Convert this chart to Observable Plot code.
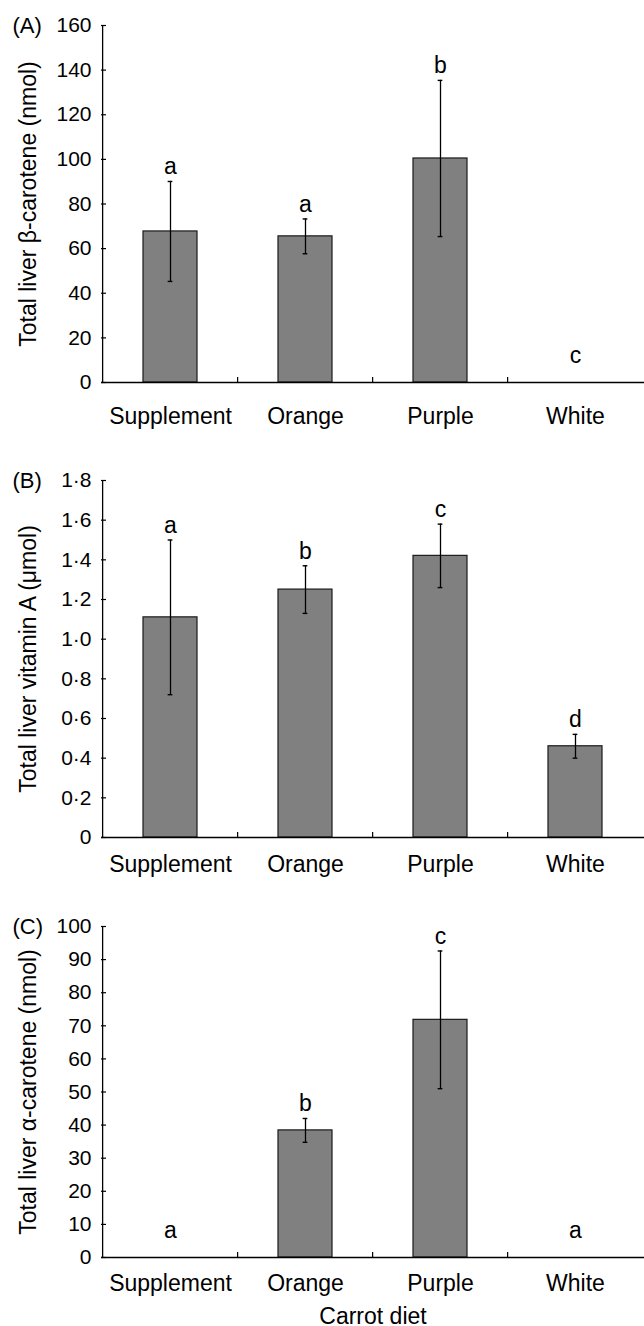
<!DOCTYPE html>
<html>
<head>
<meta charset="utf-8">
<script src="https://cdn.jsdelivr.net/npm/d3@7"></script>
<script src="https://cdn.jsdelivr.net/npm/@observablehq/plot@0.6"></script>
<style>
  body { margin: 0; background: #fff; }
  #chart svg { display: block; }
</style>
</head>
<body>
<div id="chart"></div>
<script>
// ---- data ----
const categories = ["Supplement", "Orange", "Purple", "White"];

const betaMean = [67.7, 65.5, 100.4, 0];
const betaErr = [22.4, 7.8, 35.0, 0];
const betaLetters = ["a", "a", "b", "c"];
const betaTicks = [0, 20, 40, 60, 80, 100, 120, 140, 160];

const vitAMean = [1.11, 1.25, 1.42, 0.46];
const vitAErr = [0.39, 0.12, 0.16, 0.06];
const vitALetters = ["a", "b", "c", "d"];
const vitATicks = [0, 0.2, 0.4, 0.6, 0.8, 1.0, 1.2, 1.4, 1.6, 1.8];

const alphaMean = [0, 38.4, 71.8, 0];
const alphaErr = [0, 3.6, 20.8, 0];
const alphaLetters = ["a", "b", "c", "a"];
const alphaTicks = [0, 10, 20, 30, 40, 50, 60, 70, 80, 90, 100];

// ---- layout ----
const W = 644, ML = 101, MR = 0;
const padIn = 0.6, padOut = 0.3;
const step = (W - ML - MR) / (categories.length - padIn + 2 * padOut);
const bw = step * (1 - padIn);
const font = "'Liberation Sans', Arial, Helvetica, sans-serif";
const ink = "#000";

const dotFmt = d => d === 0 ? "0" : d.toFixed(1).replace(".", "\u00B7");

function panel(o) {
  const rows = categories.map((c, i) => ({c, m: o.mean[i], e: o.err[i], l: o.letters[i]}));
  const bars = rows.filter(d => d.m > 0);
  const errs = rows.filter(d => d.e > 0);
  const zeroRows = rows.filter(d => d.m === 0);
  const top = o.ticks[o.ticks.length - 1];
  const capInset = bw / 2 - 2.5;
  const marks = [
    Plot.barY(bars, {x: "c", y: "m", fill: "#808080", stroke: "#1a1a1a", strokeWidth: 1.2}),
    Plot.ruleX(errs, {x: "c", y1: d => d.m - d.e, y2: d => d.m + d.e, stroke: "#000", strokeWidth: 1.3}),
    Plot.tickY(errs, {x: "c", y: d => d.m + d.e, insetLeft: capInset, insetRight: capInset, stroke: "#000", strokeWidth: 1.4}),
    Plot.tickY(errs, {x: "c", y: d => d.m - d.e, insetLeft: capInset, insetRight: capInset, stroke: "#000", strokeWidth: 1.4}),
    // x baseline
    Plot.ruleY([0], {stroke: "#000", strokeWidth: 1.3}),
    // y axis line
    Plot.ruleX([categories[0]], {x: d => d, y1: 0, y2: top, dx: -(bw / 2 + padOut * step), stroke: "#000", strokeWidth: 1.3}),
    // category separator ticks (pointing up)
    Plot.ruleX(categories.slice(1), {x: d => d, y1: 0, y2: 0, insetTop: -5, dx: -step / 2, stroke: "#000", strokeWidth: 1.2}),
    // y ticks inward
    Plot.axisY({ticks: o.ticks, tickSize: -5, tickFormat: () => "", label: null, stroke: "#000", strokeWidth: 1.2}),
    // y tick labels
    Plot.axisY({ticks: o.ticks, tickSize: 0, tickPadding: 10, tickFormat: o.fmt, label: null, fontSize: 21, fill: ink}),
    // x labels
    Plot.axisX({tickSize: 0, tickPadding: o.labelPad, label: null, fontSize: 23, fill: ink}),
    // significance letters
    Plot.text(rows.filter(d => d.m > 0), {x: "c", y: d => d.m + d.e, text: "l", dy: -7, lineAnchor: "bottom", fontSize: 23, fill: ink}),
    Plot.text(zeroRows, {x: "c", y: 0, text: "l", dy: -20, lineAnchor: "bottom", fontSize: 23, fill: ink}),
    // y title
    Plot.text([o.title], {frameAnchor: "left", dx: -73, rotate: -90, textAnchor: "middle", lineAnchor: "middle", fontSize: 23, fill: ink}),
    // panel key
    Plot.text([o.key], {frameAnchor: "top-left", dx: -89, textAnchor: "start", lineAnchor: "middle", fontSize: 22, fill: ink})
  ];
  if (o.xTitle) {
    marks.push(Plot.text([o.xTitle], {frameAnchor: "bottom", dy: 66, textAnchor: "middle", lineAnchor: "bottom", fontSize: 23, fill: ink}));
  }
  return Plot.plot({
    width: W,
    height: o.height,
    marginLeft: ML,
    marginRight: MR,
    marginTop: o.marginTop,
    marginBottom: o.marginBottom,
    style: {fontFamily: font, fontSize: "22px", color: ink, background: "#fff", overflow: "visible"},
    x: {domain: categories, paddingInner: padIn, paddingOuter: padOut, label: null},
    y: {domain: [0, top], label: null},
    marks
  });
}

const chart = document.getElementById("chart");
chart.append(panel({
  key: "(A)", title: "Total liver \u03B2-carotene (nmol)",
  mean: betaMean, err: betaErr, letters: betaLetters, ticks: betaTicks, fmt: d => String(d),
  height: 440, marginTop: 25, marginBottom: 58, labelPad: 25
}));
chart.append(panel({
  key: "(B)", title: "Total liver vitamin A (\u03BCmol)",
  mean: vitAMean, err: vitAErr, letters: vitALetters, ticks: vitATicks, fmt: dotFmt,
  height: 445, marginTop: 40, marginBottom: 48, labelPad: 18
}));
chart.append(panel({
  key: "(C)", title: "Total liver \u03B1-carotene (nmol)",
  mean: alphaMean, err: alphaErr, letters: alphaLetters, ticks: alphaTicks, fmt: d => String(d),
  height: 441, marginTop: 41, marginBottom: 69, labelPad: 17, xTitle: "Carrot diet"
}));
</script>
</body>
</html>
